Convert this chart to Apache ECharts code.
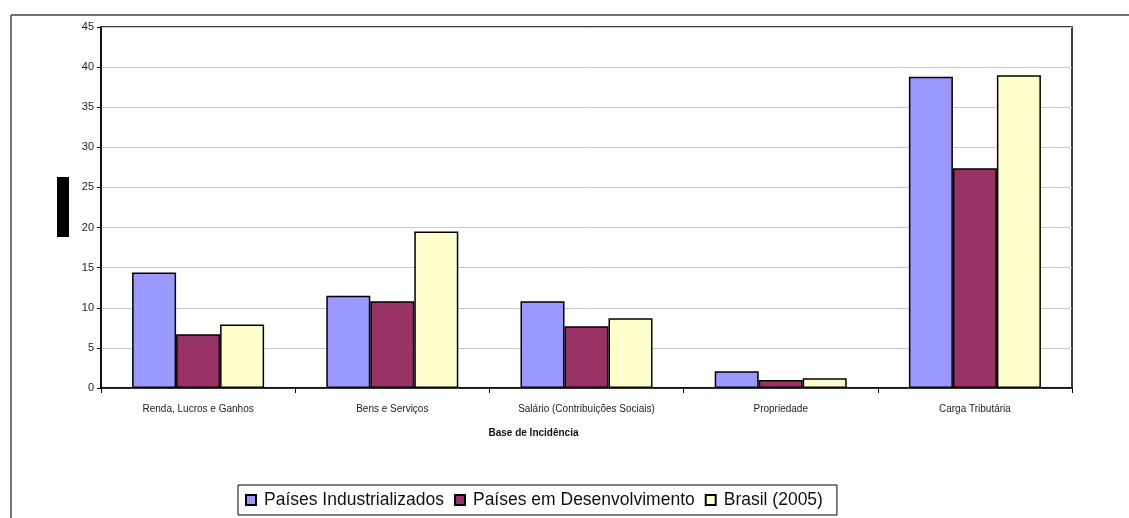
<!DOCTYPE html>
<html><head><meta charset="utf-8">
<script src="https://cdn.jsdelivr.net/npm/echarts@6/dist/echarts.min.js"></script>
<style>html,body{margin:0;padding:0;background:#fff}#c{width:1129px;height:518px}</style>
</head><body><div id="c"></div>
<script>
const categories = ['Renda, Lucros e Ganhos', 'Bens e Serviços', 'Salário (Contribuições Sociais)', 'Propriedade', 'Carga Tributária'];
const seriesNames = ['Países Industrializados', 'Países em Desenvolvimento', 'Brasil (2005)'];
const industrializados = [14.4, 11.5, 10.8, 2.1, 38.8];
const desenvolvimento = [6.7, 10.8, 7.7, 1.0, 27.4];
const brasil = [7.9, 19.5, 8.7, 1.2, 39.0];
const colors = ['#9999ff', '#993366', '#ffffcc'];
const yTicks = {min: 0, max: 45, interval: 5};
const xTitle = 'Base de Incidência';

const chart = echarts.init(document.getElementById('c'));
const data = [industrializados, desenvolvimento, brasil];
chart.setOption({
  animation: false,
  textStyle: {fontFamily: 'Liberation Sans, Arial, sans-serif'},
  grid: {left: 101, right: 57, top: 27, bottom: 130, show: true, borderColor: '#000', borderWidth: 1.5, backgroundColor: 'transparent'},
  xAxis: {
    type: 'category', data: categories,
    axisLine: {lineStyle: {color: '#000', width: 1.5}},
    axisTick: {show: true, length: 5, lineStyle: {color: '#000'}},
    axisLabel: {color: '#222', fontSize: 10, margin: 16},
    name: xTitle, nameLocation: 'middle', nameGap: 40,
    nameTextStyle: {fontSize: 10, fontWeight: 'bold', color: '#111', padding: [0, 106, 0, 0]}
  },
  yAxis: {
    type: 'value', min: yTicks.min, max: yTicks.max, interval: yTicks.interval,
    axisLine: {show: true, lineStyle: {color: '#000', width: 1.5}},
    axisTick: {show: true, length: 4, lineStyle: {color: '#000'}},
    axisLabel: {color: '#222', fontSize: 11, margin: 7},
    splitLine: {lineStyle: {color: '#c8c8c8', width: 1}}
  },
  legend: {
    data: seriesNames, left: 238, top: 485, width: 700,
    icon: 'rect', itemWidth: 10, itemHeight: 10, itemGap: 10,
    borderColor: '#000', borderWidth: 1, padding: [6, 14, 6, 7],
    textStyle: {fontSize: 17.5, color: '#111', padding: [0, 0, 0, 3]}
  },
  series: seriesNames.map((n, i) => ({
    name: n, type: 'bar', data: data[i],
    barWidth: 44, barGap: '0%',
    itemStyle: {color: colors[i], borderColor: '#000', borderWidth: 1.5}
  })),
  graphic: [
    {type: 'line', shape: {x1: 11, y1: 15, x2: 1129, y2: 15}, style: {stroke: '#444', lineWidth: 1.5}},
    {type: 'line', shape: {x1: 11, y1: 15, x2: 11, y2: 518}, style: {stroke: '#444', lineWidth: 1.5}},
    {type: 'rect', shape: {x: 57, y: 177, width: 12, height: 60}, style: {fill: '#000'}}
  ]
});
</script></body></html>
